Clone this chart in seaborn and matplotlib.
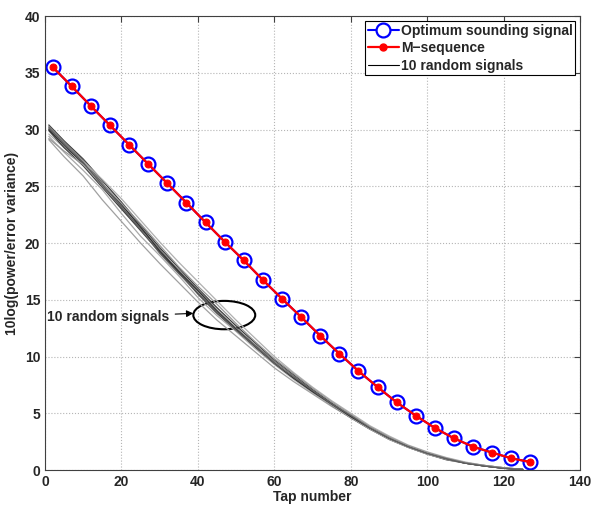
import pandas as pd
import seaborn as sns
import matplotlib.pyplot as plt
from matplotlib.lines import Line2D
from matplotlib.patches import Ellipse

# tap positions of the sounding-signal markers
taps = list(range(2, 128, 5))
optimum = [35.5, 33.8, 32.07, 30.37, 28.66, 26.96, 25.26, 23.55, 21.82, 20.11,
           18.47, 16.74, 15.09, 13.48, 11.83, 10.25, 8.72, 7.31, 5.96, 4.79,
           3.70, 2.79, 2.05, 1.53, 1.03, 0.70]
msequence = optimum

# taps for the random-signal curves
rtaps = [1] + list(range(5, 126, 5))
r1 = [30.4, 29.0, 27.4, 25.5, 23.6, 21.6, 19.6, 17.8, 16.0, 14.3, 12.7, 11.2, 9.7, 8.4, 7.1, 5.9, 4.8, 3.8, 2.9, 2.1, 1.5, 1.0, 0.6, 0.35, 0.15, 0.05]
r2 = [29.1, 27.6, 25.9, 23.8, 21.9, 20.0, 18.2, 16.5, 14.8, 13.2, 11.8, 10.4, 9.0, 7.8, 6.7, 5.6, 4.6, 3.6, 2.8, 2.1, 1.5, 1.0, 0.65, 0.4, 0.2, 0.05]
r3 = [30.1, 28.8, 27.3, 25.3, 23.1, 21.3, 19.5, 17.4, 15.6, 13.9, 12.5, 11.0, 9.6, 8.3, 7.0, 5.8, 4.8, 3.7, 2.8, 2.1, 1.5, 1.0, 0.6, 0.4, 0.2, 0.05]
r4 = [29.6, 28.4, 27.2, 25.6, 23.9, 22.0, 20.1, 18.3, 16.6, 14.9, 13.2, 11.6, 10.0, 8.6, 7.3, 6.1, 5.0, 3.9, 3.0, 2.2, 1.6, 1.1, 0.7, 0.4, 0.2, 0.05]
r5 = [29.9, 28.4, 26.8, 24.9, 23.0, 21.1, 19.2, 17.4, 15.5, 13.8, 12.3, 10.8, 9.4, 8.1, 6.9, 5.7, 4.6, 3.6, 2.7, 2.0, 1.4, 0.9, 0.6, 0.35, 0.15, 0.05]
r6 = [30.3, 28.9, 27.1, 25.0, 23.3, 21.5, 19.4, 17.6, 15.9, 14.1, 12.5, 11.0, 9.5, 8.1, 6.9, 5.8, 4.7, 3.7, 2.8, 2.0, 1.4, 0.95, 0.6, 0.35, 0.15, 0.05]
r7 = [29.4, 28.0, 26.4, 24.7, 22.6, 20.6, 18.9, 17.1, 15.2, 13.6, 12.2, 10.7, 9.3, 8.0, 6.8, 5.7, 4.6, 3.6, 2.7, 2.0, 1.4, 0.95, 0.6, 0.35, 0.15, 0.05]
r8 = [30.0, 28.6, 27.0, 25.2, 23.4, 21.4, 19.3, 17.5, 15.8, 14.0, 12.4, 10.9, 9.4, 8.1, 6.9, 5.8, 4.7, 3.7, 2.8, 2.1, 1.5, 1.0, 0.6, 0.35, 0.15, 0.05]
r9 = [29.2, 28.1, 26.9, 25.2, 23.5, 21.7, 19.8, 17.9, 16.2, 14.6, 12.9, 11.3, 9.8, 8.5, 7.2, 6.0, 4.9, 3.8, 2.9, 2.15, 1.55, 1.05, 0.65, 0.4, 0.2, 0.05]
r10 = [30.2, 28.7, 27.1, 25.1, 23.2, 21.2, 19.1, 17.3, 15.6, 13.9, 12.3, 10.9, 9.4, 8.2, 7.0, 5.8, 4.8, 3.7, 2.8, 2.05, 1.45, 1.0, 0.6, 0.35, 0.15, 0.05]
random_curves = [r1, r2, r3, r4, r5, r6, r7, r8, r9, r10]
greys = ['#3a3a3a', '#a0a0a0', '#707070', '#b0b0b0', '#404040',
         '#808080', '#a8a8a8', '#303030', '#999999', '#606060']

xticks = list(range(0, 141, 20))
yticks = list(range(0, 41, 5))

rows = []
for i, c in enumerate(random_curves):
    for t, v in zip(rtaps, c):
        rows.append({'tap': t, 'val': v, 'signal': 'sig%d' % i})
rand_df = pd.DataFrame(rows)
sig_df = pd.DataFrame({'tap': taps, 'opt': optimum, 'mseq': msequence})

sns.set_style('white')
plt.rcParams['font.family'] = ['Liberation Sans', 'DejaVu Sans']
plt.rcParams['font.weight'] = 'bold'
plt.rcParams['font.size'] = 10

fig = plt.figure(figsize=(5.92, 5.05), dpi=100)
ax = fig.add_axes([0.076, 0.0693, 0.904, 0.899])

sns.lineplot(data=rand_df, x='tap', y='val', hue='signal', palette=greys,
             estimator=None, lw=0.9, legend=False, ax=ax)
sns.lineplot(data=sig_df, x='tap', y='opt', color='blue', lw=1.5, marker='o',
             markersize=10, markerfacecolor='none', markeredgecolor='blue',
             markeredgewidth=1.6, ax=ax)
sns.lineplot(data=sig_df, x='tap', y='mseq', color='red', lw=1.6, marker='o',
             markersize=5, markerfacecolor='red', markeredgecolor='red', ax=ax)

ax.set_xlim(0, 140)
ax.set_ylim(0, 40)
ax.set_xticks(xticks)
ax.set_yticks(yticks)
ax.grid(True, linestyle=':', color='#b5b5b5', lw=0.8)
ax.tick_params(direction='in', top=True, right=True, length=4, width=0.8,
               labelsize=10, color='#404040')
for s in ax.spines.values():
    s.set_color('#404040')
    s.set_linewidth(0.8)
ax.set_xlabel('Tap number', fontweight='bold', fontsize=10, labelpad=1)
ax.set_ylabel('10log(power/error variance)', fontweight='bold', fontsize=10, labelpad=4)

# annotation for the random signal bundle
ax.add_patch(Ellipse((46.9, 13.65), 16.2, 2.5, fill=False, ec='black', lw=1.5))
ax.annotate('10 random signals', xy=(38.8, 13.8), xytext=(0.5, 13.5),
            ha='left', va='center', fontweight='bold', fontsize=10,
            arrowprops=dict(arrowstyle='-|>', color='black', lw=0.8,
                            shrinkA=2, shrinkB=0, mutation_scale=10))

handles = [
    Line2D([], [], color='blue', lw=1.5, marker='o', markersize=10,
           markerfacecolor='white', markeredgewidth=1.6),
    Line2D([], [], color='red', lw=1.6, marker='o', markersize=5),
    Line2D([], [], color='black', lw=0.8),
]
labels = ['Optimum sounding signal', 'M\u2212sequence', '10 random signals']
leg = ax.legend(handles, labels, loc='upper right', fontsize=10,
                handlelength=2.2, handletextpad=0.15, borderpad=0.2,
                labelspacing=0.25, borderaxespad=0.35, fancybox=False,
                framealpha=1, edgecolor='black')
leg.get_frame().set_linewidth(0.8)

plt.savefig('out.png', dpi=100)
